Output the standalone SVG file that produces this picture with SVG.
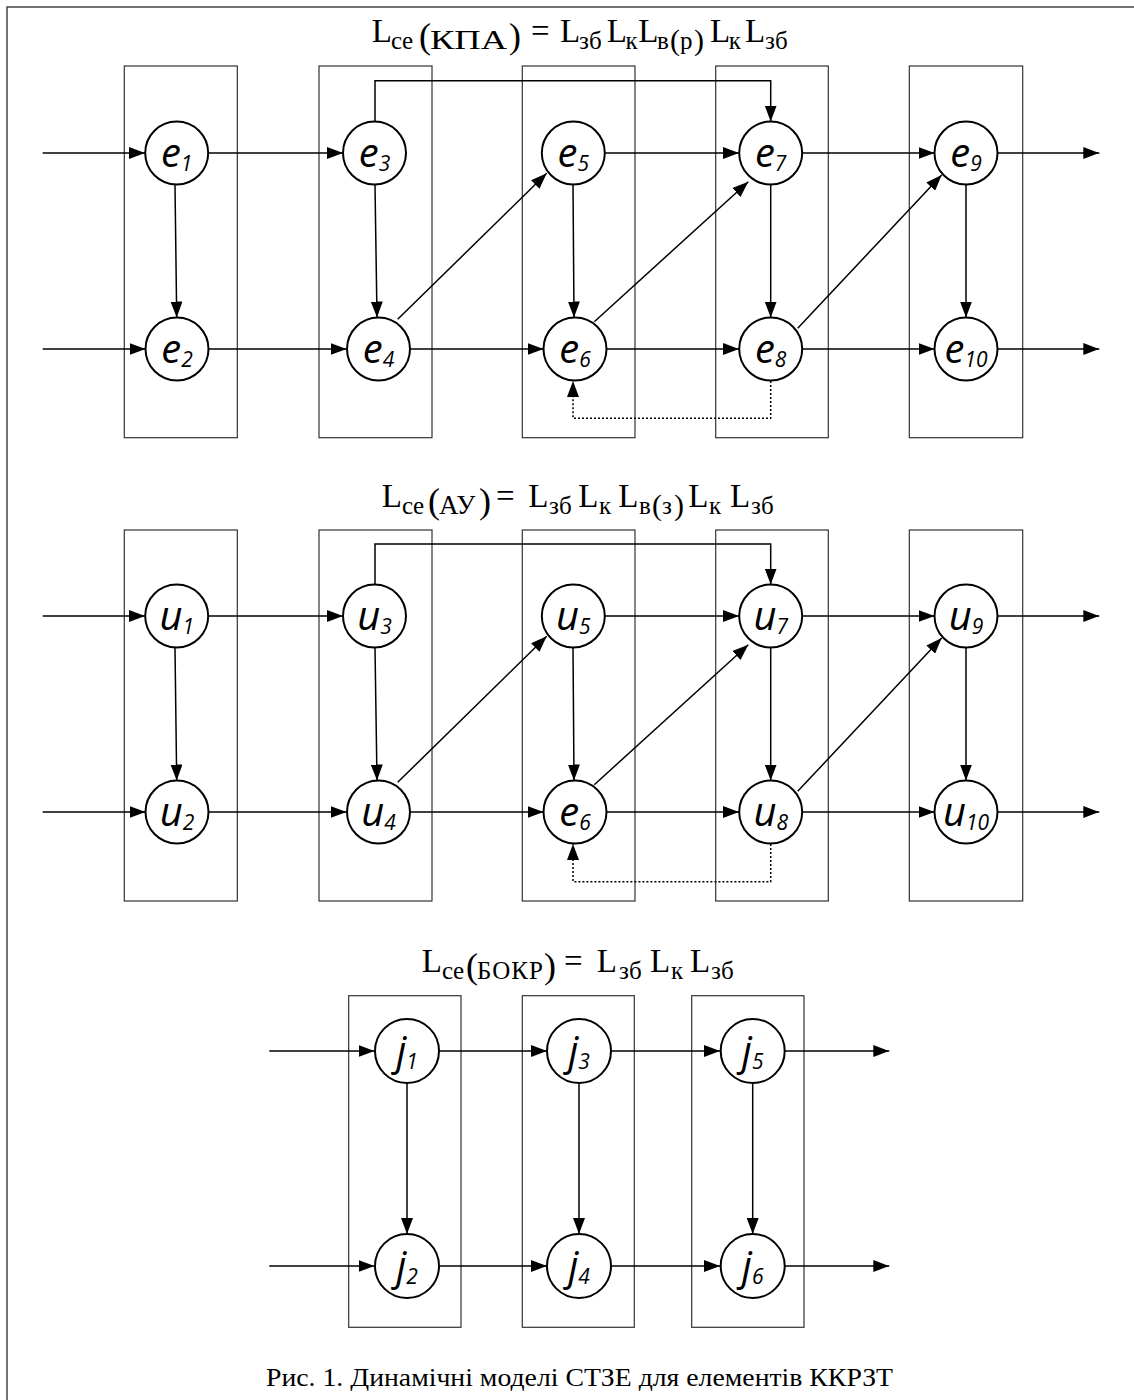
<svg xmlns="http://www.w3.org/2000/svg" width="1134" height="1400" viewBox="0 0 1134 1400">
<style>
  .frame{fill:none;stroke:#444;stroke-width:1.5}
  .box{fill:none;stroke:#333;stroke-width:1.2}
  .node circle{fill:#fff;stroke:#000;stroke-width:2}
  .lbl{font-family:"Open Sans","Noto Sans","DejaVu Sans",sans-serif;font-style:italic;font-size:40px;fill:#000;text-anchor:middle}
  .lbl .sub{font-size:21px}
  .c{fill:none;stroke:#000;stroke-width:1.5;marker-end:url(#ah)}
  .dot{stroke-dasharray:2 2}
  .f{font-family:"Liberation Serif","Times New Roman",serif;font-size:33px;fill:#000}
  .f .s{font-size:25px}
  .f .k{font-size:27px}
  .f .p{font-size:36px}
  .f .sp{font-size:30px}
  .cap{font-family:"Liberation Serif","Times New Roman",serif;font-size:25px;fill:#000}
</style>
<defs>
  <marker id="ah" viewBox="0 0 16 12" markerWidth="16" markerHeight="12" refX="16" refY="6" orient="auto" markerUnits="userSpaceOnUse">
    <path d="M0,0 L16,6 L0,12 z" fill="#000"/>
  </marker>
</defs>
<rect width="1134" height="1400" fill="#fff"/>
<path class="frame" d="M7,1400 V7 H1134"/>

<!-- formulas -->
<text class="f" y="42"><tspan x="371.7">L</tspan><tspan class="s" x="391" y="49">ce</tspan><tspan class="p" x="419" y="48">(</tspan><tspan class="k" x="430" y="49" textLength="77" lengthAdjust="spacingAndGlyphs">КПА</tspan><tspan class="p" x="509" y="48">)</tspan><tspan x="531" y="42">=</tspan><tspan x="560">L</tspan><tspan class="s" x="579" y="49">зб</tspan><tspan x="606.7" y="42">L</tspan><tspan class="s" x="625.5" y="49">к</tspan><tspan x="638.3" y="42">L</tspan><tspan class="s" x="657" y="49">в</tspan><tspan class="sp" x="670" y="50">(</tspan><tspan class="s" x="680" y="49">р</tspan><tspan class="sp" x="694" y="50">)</tspan><tspan x="710" y="42">L</tspan><tspan class="s" x="728.8" y="49">к</tspan><tspan x="745" y="42">L</tspan><tspan class="s" x="765" y="49">зб</tspan></text>

<text class="f" y="507"><tspan x="381.7">L</tspan><tspan class="s" x="402" y="514">ce</tspan><tspan class="p" x="428" y="513">(</tspan><tspan class="k" x="439" y="514">АУ</tspan><tspan class="p" x="479" y="513">)</tspan><tspan x="496" y="507">=</tspan><tspan x="528.3">L</tspan><tspan class="s" x="549" y="514">зб</tspan><tspan x="578.3" y="507">L</tspan><tspan class="s" x="599" y="514">к</tspan><tspan x="618.3" y="507">L</tspan><tspan class="s" x="639" y="514">в</tspan><tspan class="sp" x="652" y="515">(</tspan><tspan class="s" x="662" y="514">з</tspan><tspan class="sp" x="674" y="515">)</tspan><tspan x="688.3" y="507">L</tspan><tspan class="s" x="709" y="514">к</tspan><tspan x="730" y="507">L</tspan><tspan class="s" x="751" y="514">зб</tspan></text>

<text class="f" y="972"><tspan x="421.7">L</tspan><tspan class="s" x="442" y="979">ce</tspan><tspan class="p" x="466" y="978">(</tspan><tspan class="s" x="477" y="979" textLength="66">БОКР</tspan><tspan class="p" x="544" y="978">)</tspan><tspan x="564" y="972">=</tspan><tspan x="596.7">L</tspan><tspan class="s" x="619" y="979">зб</tspan><tspan x="650" y="972">L</tspan><tspan class="s" x="671" y="979">к</tspan><tspan x="690" y="972">L</tspan><tspan class="s" x="711" y="979">зб</tspan></text>

<!-- boxes -->
<g id="boxes">
  <rect class="box" x="124.3" y="66" width="113" height="371.7"/>
  <rect class="box" x="319" y="66" width="113" height="371.7"/>
  <rect class="box" x="522.3" y="66" width="112.7" height="371.7"/>
  <rect class="box" x="715.7" y="66" width="112.6" height="371.7"/>
  <rect class="box" x="909.3" y="66" width="113.4" height="371.7"/>
  <rect class="box" x="124.3" y="530" width="113" height="371"/>
  <rect class="box" x="319" y="530" width="113" height="371"/>
  <rect class="box" x="522.3" y="530" width="112.7" height="371"/>
  <rect class="box" x="715.7" y="530" width="112.6" height="371"/>
  <rect class="box" x="909.3" y="530" width="113.4" height="371"/>
  <rect class="box" x="348.7" y="995.7" width="112.3" height="331.6"/>
  <rect class="box" x="522.3" y="995.7" width="112" height="331.6"/>
  <rect class="box" x="691.7" y="995.7" width="112.3" height="331.6"/>
</g>

<!-- connectors -->
<g id="connectors">
  <!-- top section -->
  <line class="c" x1="42.7" y1="153" x2="145" y2="153"/>
  <line class="c" x1="208.5" y1="153" x2="343" y2="153"/>
  <line class="c" x1="605" y1="153" x2="739" y2="153"/>
  <line class="c" x1="802.5" y1="153" x2="934.5" y2="153"/>
  <line class="c" x1="998" y1="153" x2="1099.3" y2="153"/>
  <line class="c" x1="42.7" y1="349" x2="145.5" y2="349"/>
  <line class="c" x1="209" y1="349" x2="346.5" y2="349"/>
  <line class="c" x1="410.5" y1="349" x2="543.5" y2="349"/>
  <line class="c" x1="606.5" y1="349" x2="739" y2="349"/>
  <line class="c" x1="802.5" y1="349" x2="934.5" y2="349"/>
  <line class="c" x1="998" y1="349" x2="1099.3" y2="349"/>
  <line class="c" x1="175" y1="185" x2="176.7" y2="317.5"/>
  <line class="c" x1="375" y1="185" x2="377" y2="317.5"/>
  <line class="c" x1="573" y1="185" x2="574" y2="317.5"/>
  <line class="c" x1="770.7" y1="185" x2="770.7" y2="317.5"/>
  <line class="c" x1="966" y1="185" x2="966" y2="317.5"/>
  <line class="c" x1="397.7" y1="319.3" x2="546.7" y2="173.3"/>
  <line class="c" x1="594.3" y1="321.7" x2="748.3" y2="181.7"/>
  <line class="c" x1="797.7" y1="328.3" x2="941.7" y2="175"/>
  <path class="c" d="M375,121.5 V80.7 H770.7 V121.5"/>
  <path class="c dot" d="M770.7,381 V418.3 H573 V381"/>
  <!-- middle section -->
  <line class="c" x1="42.7" y1="616" x2="145" y2="616"/>
  <line class="c" x1="208.5" y1="616" x2="343" y2="616"/>
  <line class="c" x1="605" y1="616" x2="739" y2="616"/>
  <line class="c" x1="802.5" y1="616" x2="934.5" y2="616"/>
  <line class="c" x1="998" y1="616" x2="1099.3" y2="616"/>
  <line class="c" x1="42.7" y1="812" x2="145.5" y2="812"/>
  <line class="c" x1="209" y1="812" x2="346.5" y2="812"/>
  <line class="c" x1="410.5" y1="812" x2="543.5" y2="812"/>
  <line class="c" x1="606.5" y1="812" x2="739" y2="812"/>
  <line class="c" x1="802.5" y1="812" x2="934.5" y2="812"/>
  <line class="c" x1="998" y1="812" x2="1099.3" y2="812"/>
  <line class="c" x1="175" y1="648" x2="176.7" y2="780.5"/>
  <line class="c" x1="375" y1="648" x2="377" y2="780.5"/>
  <line class="c" x1="573" y1="648" x2="574" y2="780.5"/>
  <line class="c" x1="770.7" y1="648" x2="770.7" y2="780.5"/>
  <line class="c" x1="966" y1="648" x2="966" y2="780.5"/>
  <line class="c" x1="397.7" y1="782.3" x2="546.7" y2="636.3"/>
  <line class="c" x1="594.3" y1="784.7" x2="748.3" y2="644.7"/>
  <line class="c" x1="797.7" y1="791.3" x2="941.7" y2="638"/>
  <path class="c" d="M375,584.5 V544 H770.7 V584.5"/>
  <path class="c dot" d="M770.7,844 V881.7 H573 V844"/>
  <!-- bottom section -->
  <line class="c" x1="269.3" y1="1051" x2="374.5" y2="1051"/>
  <line class="c" x1="439.5" y1="1051" x2="547" y2="1051"/>
  <line class="c" x1="611.5" y1="1051" x2="720" y2="1051"/>
  <line class="c" x1="785" y1="1051" x2="889.3" y2="1051"/>
  <line class="c" x1="269.3" y1="1266" x2="374.5" y2="1266"/>
  <line class="c" x1="439.5" y1="1266" x2="547" y2="1266"/>
  <line class="c" x1="611.5" y1="1266" x2="720" y2="1266"/>
  <line class="c" x1="785" y1="1266" x2="889.3" y2="1266"/>
  <line class="c" x1="407" y1="1083" x2="407" y2="1234"/>
  <line class="c" x1="579" y1="1083" x2="579" y2="1234"/>
  <line class="c" x1="752.7" y1="1083" x2="752.7" y2="1234"/>
</g>

<!-- nodes: top -->
<g id="e1" class="node"><circle cx="176.7" cy="153" r="31.5"/><text class="lbl" x="176.7" y="166.5">e<tspan class="sub" dy="4">1</tspan></text></g>
<g id="e2" class="node"><circle cx="177" cy="349" r="31.5"/><text class="lbl" x="177" y="362.5">e<tspan class="sub" dy="4">2</tspan></text></g>
<g id="e3" class="node"><circle cx="374.5" cy="153" r="31.5"/><text class="lbl" x="374.5" y="166.5">e<tspan class="sub" dy="4">3</tspan></text></g>
<g id="e4" class="node"><circle cx="378.5" cy="349" r="31.5"/><text class="lbl" x="378.5" y="362.5">e<tspan class="sub" dy="4">4</tspan></text></g>
<g id="e5" class="node"><circle cx="573.3" cy="153" r="31.5"/><text class="lbl" x="573.3" y="166.5">e<tspan class="sub" dy="4">5</tspan></text></g>
<g id="e6" class="node"><circle cx="575" cy="349" r="31.5"/><text class="lbl" x="575" y="362.5">e<tspan class="sub" dy="4">6</tspan></text></g>
<g id="e7" class="node"><circle cx="770.7" cy="153" r="31.5"/><text class="lbl" x="770.7" y="166.5">e<tspan class="sub" dy="4">7</tspan></text></g>
<g id="e8" class="node"><circle cx="770.7" cy="349" r="31.5"/><text class="lbl" x="770.7" y="362.5">e<tspan class="sub" dy="4">8</tspan></text></g>
<g id="e9" class="node"><circle cx="966" cy="153" r="31.5"/><text class="lbl" x="966" y="166.5">e<tspan class="sub" dy="4">9</tspan></text></g>
<g id="e10" class="node"><circle cx="966" cy="349" r="31.5"/><text class="lbl" x="966" y="362.5">e<tspan class="sub" dy="4">10</tspan></text></g>

<!-- nodes: middle -->
<g id="u1" class="node"><circle cx="176.7" cy="616" r="31.5"/><text class="lbl" x="176.7" y="629.5">u<tspan class="sub" dy="4">1</tspan></text></g>
<g id="u2" class="node"><circle cx="177" cy="812" r="31.5"/><text class="lbl" x="177" y="825.5">u<tspan class="sub" dy="4">2</tspan></text></g>
<g id="u3" class="node"><circle cx="374.5" cy="616" r="31.5"/><text class="lbl" x="374.5" y="629.5">u<tspan class="sub" dy="4">3</tspan></text></g>
<g id="u4" class="node"><circle cx="378.5" cy="812" r="31.5"/><text class="lbl" x="378.5" y="825.5">u<tspan class="sub" dy="4">4</tspan></text></g>
<g id="u5" class="node"><circle cx="573.3" cy="616" r="31.5"/><text class="lbl" x="573.3" y="629.5">u<tspan class="sub" dy="4">5</tspan></text></g>
<g id="e6b" class="node"><circle cx="575" cy="812" r="31.5"/><text class="lbl" x="575" y="825.5">e<tspan class="sub" dy="4">6</tspan></text></g>
<g id="u7" class="node"><circle cx="770.7" cy="616" r="31.5"/><text class="lbl" x="770.7" y="629.5">u<tspan class="sub" dy="4">7</tspan></text></g>
<g id="u8" class="node"><circle cx="770.7" cy="812" r="31.5"/><text class="lbl" x="770.7" y="825.5">u<tspan class="sub" dy="4">8</tspan></text></g>
<g id="u9" class="node"><circle cx="966" cy="616" r="31.5"/><text class="lbl" x="966" y="629.5">u<tspan class="sub" dy="4">9</tspan></text></g>
<g id="u10" class="node"><circle cx="966" cy="812" r="31.5"/><text class="lbl" x="966" y="825.5">u<tspan class="sub" dy="4">10</tspan></text></g>

<!-- nodes: bottom -->
<g id="j1" class="node"><circle cx="407" cy="1051" r="32"/><text class="lbl" x="407" y="1064.5">j<tspan class="sub" dy="4">1</tspan></text></g>
<g id="j2" class="node"><circle cx="407" cy="1266" r="32"/><text class="lbl" x="407" y="1279.5">j<tspan class="sub" dy="4">2</tspan></text></g>
<g id="j3" class="node"><circle cx="579" cy="1051" r="32"/><text class="lbl" x="579" y="1064.5">j<tspan class="sub" dy="4">3</tspan></text></g>
<g id="j4" class="node"><circle cx="579" cy="1266" r="32"/><text class="lbl" x="579" y="1279.5">j<tspan class="sub" dy="4">4</tspan></text></g>
<g id="j5" class="node"><circle cx="752.7" cy="1051" r="32"/><text class="lbl" x="752.7" y="1064.5">j<tspan class="sub" dy="4">5</tspan></text></g>
<g id="j6" class="node"><circle cx="752.7" cy="1266" r="32"/><text class="lbl" x="752.7" y="1279.5">j<tspan class="sub" dy="4">6</tspan></text></g>

<text class="cap" x="266" y="1386" textLength="627" lengthAdjust="spacingAndGlyphs">Рис. 1. Динамічні моделі СТЗЕ для елементів ККРЗТ</text>
</svg>
